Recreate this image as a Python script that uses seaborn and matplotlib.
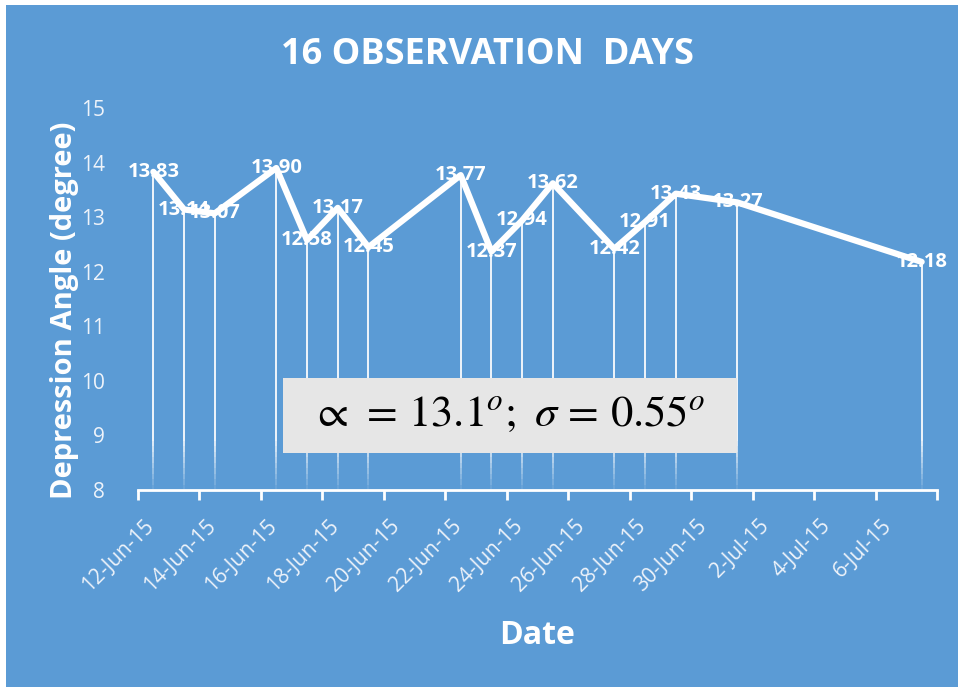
import pandas as pd
import numpy as np
import matplotlib
matplotlib.use("Agg")
import matplotlib.pyplot as plt
import matplotlib.dates as mdates
from matplotlib.patches import Rectangle
import seaborn as sns

# --- dados: 16 dias de observação ---
dias = ["2015-06-12", "2015-06-13", "2015-06-14", "2015-06-16", "2015-06-17",
        "2015-06-18", "2015-06-19", "2015-06-22", "2015-06-23", "2015-06-24",
        "2015-06-25", "2015-06-27", "2015-06-28", "2015-06-29", "2015-07-01",
        "2015-07-07"]
angulos = [13.83, 13.14, 13.07, 13.90, 12.58, 13.17, 12.45, 13.77, 12.37,
           12.94, 13.62, 12.42, 12.91, 13.43, 13.27, 12.18]
ticks_datas = pd.date_range("2015-06-12", "2015-07-08", freq="2D")
tick_labels = [d.strftime("%-d-%b-%y") for d in ticks_datas[:-1]] + [""]
texto_stats = r"$\propto\, = \,13.1^{o};\ \sigma\, = \,0.55^{o}$"

AZUL = "#5B9BD5"

df = pd.DataFrame({"Data": pd.to_datetime(dias) + pd.Timedelta(hours=12),
                   "Angulo": angulos})

sns.set_style("white")
plt.rcParams["font.family"] = ["Open Sans", "DejaVu Sans"]
plt.rcParams["mathtext.fontset"] = "stix"

fig = plt.figure(figsize=(9.58, 6.87), dpi=100)
fig.patch.set_facecolor("white")
fig.patches.append(Rectangle((6 / 958, 0), 1, 1 - 5 / 687, transform=fig.transFigure,
                             facecolor=AZUL, edgecolor="none", zorder=-10))

ax = fig.add_axes([138 / 958, 197 / 687, 799 / 958, 382 / 687])
ax.set_facecolor("none")

# linhas verticais (com desvanecimento perto do eixo)
for x, y in zip(df["Data"], df["Angulo"]):
    ax.vlines(x, 8.9, y, color="white", lw=1.4, alpha=0.9, zorder=2)
    segs = np.linspace(8.0, 8.9, 10)
    for i in range(len(segs) - 1):
        ax.vlines(x, segs[i], segs[i + 1], color="white", lw=1.4,
                  alpha=0.9 * (i + 1) / len(segs), zorder=2)

sns.lineplot(data=df, x="Data", y="Angulo", ax=ax, color="white", lw=4.5,
             zorder=3, legend=False)

for x, y in zip(df["Data"], df["Angulo"]):
    ax.text(x, y, f"{y:.2f}", color="white", fontsize=14.5, fontweight="bold",
            ha="center", va="center", zorder=4)

ax.set_xlim(pd.Timestamp("2015-06-12"), pd.Timestamp("2015-07-08"))
ax.set_ylim(8, 15)
ax.set_yticks(range(8, 16))
ax.set_xticks(ticks_datas)
ax.set_xticklabels([])
# rótulos de data girados (deslocados como no Excel)
for d, lab in zip(ticks_datas, tick_labels):
    ax.annotate(lab, xy=(mdates.date2num(d), 0), xycoords=ax.get_xaxis_transform(),
                xytext=(13, -33), textcoords="offset pixels", rotation=45,
                ha="right", va="center", rotation_mode="anchor",
                color="#EEF3FA", fontsize=15, annotation_clip=False)
ax.tick_params(axis="y", length=0, labelsize=15, labelcolor="#EEF3FA", pad=24)
ax.tick_params(axis="x", bottom=True, length=7, width=2, color="white",
               direction="out", pad=4)

for s in ["top", "right", "left"]:
    ax.spines[s].set_visible(False)
ax.spines["bottom"].set_color("white")
ax.spines["bottom"].set_linewidth(2)

ax.set_xlabel("")
ax.set_ylabel("")
fig.text(537 / 958, 1 - 635 / 687, "Date", color="white", fontsize=23,
         fontweight="bold", ha="center", va="center")
fig.text(65 / 958, 1 - 310 / 687, "Depression Angle (degree)", color="white",
         fontsize=21, fontweight="bold", ha="center", va="center", rotation=90)
fig.text(487 / 958, 1 - 55 / 687, "16 OBSERVATION  DAYS", color="white",
         fontsize=26, fontweight="bold", ha="center", va="center")

# caixa com estatísticas
fig.patches.append(Rectangle((283 / 958, 1 - 453 / 687), 454 / 958, 75 / 687,
                             transform=fig.transFigure, facecolor="#E6E6E6",
                             edgecolor="none", zorder=5))
fig.text(508 / 958, 1 - 415 / 687, texto_stats, color="black", fontsize=32,
         ha="center", va="center", zorder=6)

fig.savefig("out.png", dpi=100, facecolor=fig.get_facecolor())
